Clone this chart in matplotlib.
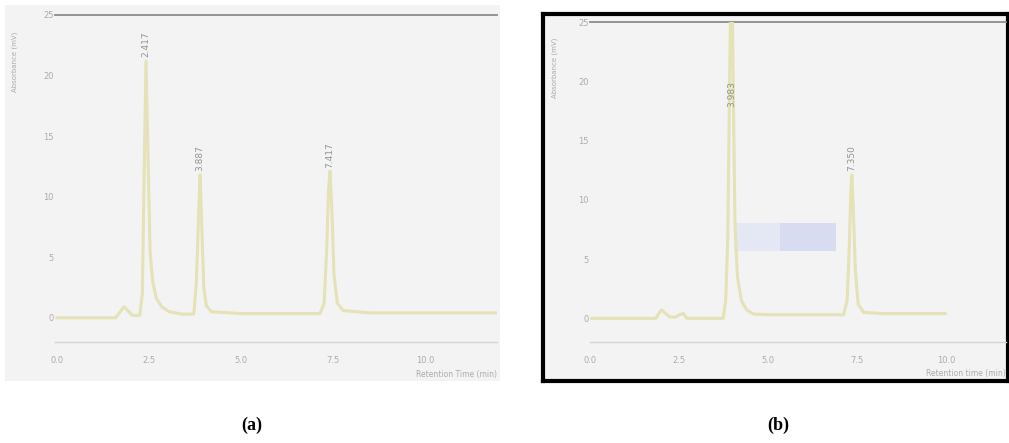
import matplotlib
matplotlib.use("Agg")
import matplotlib.pyplot as plt
from matplotlib.patches import Rectangle

# ---------------- data ----------------
x_ticks = [0.0, 2.5, 5.0, 7.5, 10.0]
x_tick_labels = ["0.0", "2.5", "5.0", "7.5", "10.0"]
y_ticks = [0, 5, 10, 15, 20, 25]
y_tick_labels = ["0", "5", "10", "15", "20", "25"]

# chromatogram (a): retention time (min) and signal (mV)
time_a = [0.0, 1.6, 1.72, 1.82, 1.92, 2.05, 2.25, 2.32, 2.37, 2.42, 2.47, 2.53,
          2.6, 2.7, 2.85, 3.05, 3.4, 3.72, 3.79, 3.85, 3.89, 3.93, 3.99, 4.06,
          4.2, 5.0, 7.15, 7.26, 7.33, 7.38, 7.42, 7.47, 7.53, 7.62, 7.78, 8.5, 12.0]
signal_a = [0.0, 0.0, 0.5, 0.9, 0.6, 0.2, 0.2, 2.0, 12.0, 21.2, 14.0, 5.5,
            3.0, 1.6, 0.9, 0.5, 0.3, 0.3, 3.0, 8.5, 11.8, 8.0, 2.5, 1.0,
            0.5, 0.35, 0.35, 1.2, 5.5, 10.5, 12.1, 9.0, 3.5, 1.2, 0.6, 0.4, 0.4]
peaks_a_time = [2.42, 3.89, 7.42]
peaks_a_height = [21.2, 11.8, 12.1]
peaks_a_label = ["2.417", "3.887", "7.417"]

# chromatogram (b)
time_b = [0.05, 1.85, 1.95, 2.02, 2.12, 2.25, 2.4, 2.55, 2.62, 2.72, 3.74, 3.81,
          3.87, 3.92, 3.97, 4.02, 4.07, 4.14, 4.25, 4.4, 4.6, 5.0, 7.12, 7.22,
          7.28, 7.32, 7.35, 7.39, 7.45, 7.53, 7.68, 8.2, 9.97]
signal_b = [0.0, 0.0, 0.5, 0.7, 0.4, 0.1, 0.1, 0.35, 0.4, 0.0, 0.0, 1.5,
            7.0, 20.0, 32.0, 20.0, 8.0, 3.5, 1.5, 0.7, 0.35, 0.3, 0.3, 1.5,
            6.0, 10.5, 12.1, 9.5, 4.0, 1.2, 0.5, 0.4, 0.4]
peaks_b_time = [3.97, 7.35]
peaks_b_height = [17.5, 12.1]
peaks_b_label = ["3.983", "7.350"]

# ---------------- figure ----------------
W, H = 1009, 443
fig = plt.figure(figsize=(W / 100, H / 100), dpi=100)
fig.patch.set_facecolor("white")


def px_axes(x0, y0, x1, y1, **kw):
    return fig.add_axes([x0 / W, 1 - y1 / H, (x1 - x0) / W, (y1 - y0) / H], **kw)


tick_col = "#ababab"
trace_col = "#e4e2b6"
bg_col = "#f3f3f3"

# backgrounds
bg_a = px_axes(5, 5, 500, 381)
bg_a.set_facecolor(bg_col)
bg_a.set_xticks([]); bg_a.set_yticks([])
for s in bg_a.spines.values():
    s.set_visible(False)

bg_b = px_axes(543, 14, 1008, 381)
bg_b.set_facecolor(bg_col)
bg_b.set_xticks([]); bg_b.set_yticks([])
for s in bg_b.spines.values():
    s.set_linewidth(3)
    s.set_color("black")
bg_b.add_patch(Rectangle((0.41, 0.355), 0.12, 0.075, transform=bg_b.transAxes,
                         facecolor="#e4e7f4", edgecolor="none"))
bg_b.add_patch(Rectangle((0.51, 0.355), 0.12, 0.075, transform=bg_b.transAxes,
                         facecolor="#d8dcf0", edgecolor="none"))


def setup(ax, xlim, ylabel_x, xlabel):
    ax.set_facecolor("none")
    ax.set_xlim(*xlim)
    ax.set_ylim(-2.0, 25)
    for k in ("left", "right", "top"):
        ax.spines[k].set_visible(False)
    ax.spines["bottom"].set_color("#d4d4d4")
    ax.spines["bottom"].set_linewidth(1.0)
    ax.axhline(25, color="#8c8c8c", lw=1.3, clip_on=False)
    ax.set_xticks(x_ticks)
    ax.set_xticklabels(x_tick_labels)
    ax.set_yticks(y_ticks)
    ax.set_yticklabels(y_tick_labels)
    ax.tick_params(length=0, labelsize=6, labelcolor=tick_col, pad=10)
    ax.tick_params(axis="y", pad=1)
    ax.text(1.0, -0.085, xlabel, transform=ax.transAxes, ha="right", va="top",
            fontsize=5.5, color=tick_col)
    ax.text(ylabel_x, 0.95, "Absorbance (mV)", transform=ax.transAxes,
            rotation=90, ha="center", va="top", fontsize=5, color=tick_col)


# panel (a)
ax_a = px_axes(55, 15, 497, 342)
setup(ax_a, (-0.054, 11.96), -0.09, "Retention Time (min)")
ax_a.plot(time_a, signal_a, color=trace_col, lw=2.2, solid_joinstyle="round")
for t, h, lab in zip(peaks_a_time, peaks_a_height, peaks_a_label):
    ax_a.text(t, h + 0.3, lab, rotation=90, ha="center", va="bottom",
              fontsize=6.5, color="#939393")

# panel (b)
ax_b = px_axes(590, 22, 1006, 342)
setup(ax_b, (0.0, 11.68), -0.085, "Retention time (min)")
ax_b.plot(time_b, signal_b, color=trace_col, lw=2.2, solid_joinstyle="round")
for t, h, lab in zip(peaks_b_time, peaks_b_height, peaks_b_label):
    ax_b.text(t, h + 0.3, lab, rotation=90, ha="center", va="bottom",
              fontsize=6.5, color="#939393")

# panel captions
fig.text(252 / W, 1 - 425 / H, "(a)", ha="center", va="center", fontsize=13,
         fontweight="bold", family="Liberation Serif")
fig.text(778 / W, 1 - 425 / H, "(b)", ha="center", va="center", fontsize=13,
         fontweight="bold", family="Liberation Serif")

fig.savefig("out.png", dpi=100, facecolor="white")
